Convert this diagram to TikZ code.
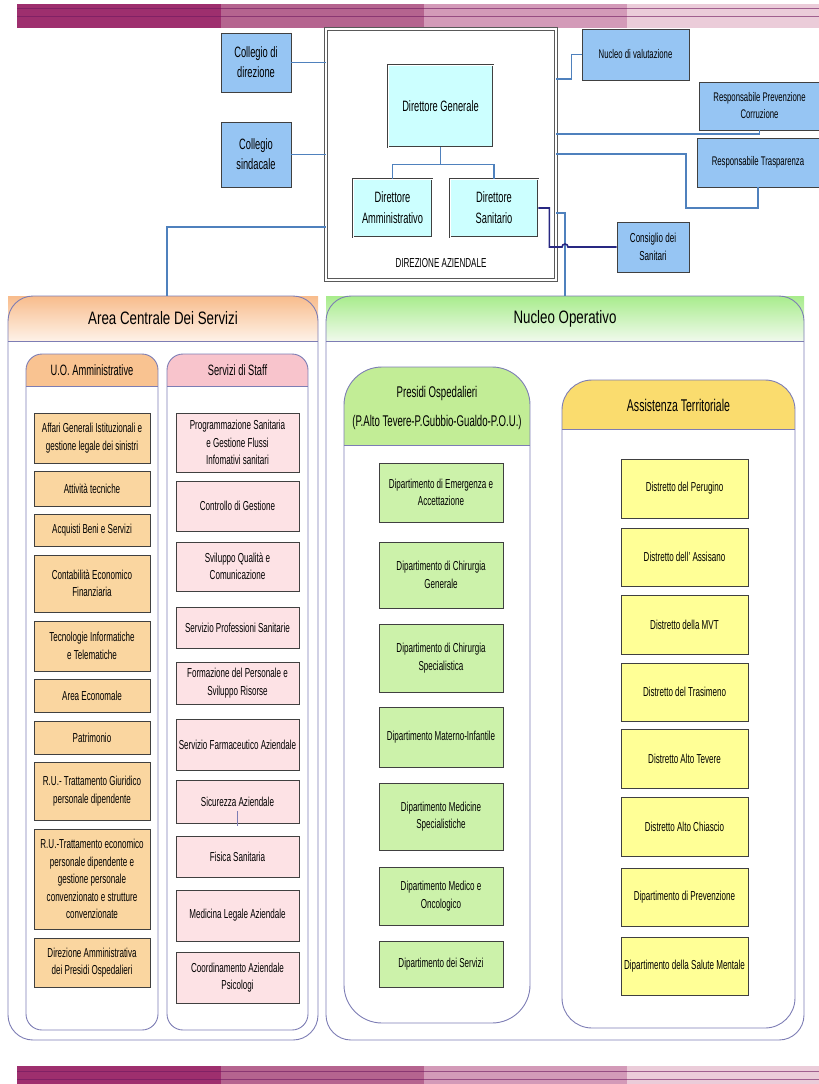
\documentclass[tikz,border=0pt]{standalone}
\usepackage{fontspec}
\setmainfont{Liberation Sans}[FakeStretch=0.62]
\newfontfamily\headfont{Liberation Sans}[FakeStretch=0.74]
\usetikzlibrary{shadows}

\definecolor{bandA}{RGB}{158,47,110}
\definecolor{bandB}{RGB}{181,100,143}
\definecolor{bandC}{RGB}{211,154,184}
\definecolor{bandD}{RGB}{235,204,217}
\definecolor{bandline}{RGB}{110,25,95}
\definecolor{linkblue}{RGB}{79,129,189}
\definecolor{navy}{RGB}{40,40,130}
\definecolor{framegray}{RGB}{125,125,180}
\definecolor{boxblue}{RGB}{150,197,243}
\definecolor{dirfill}{RGB}{204,255,255}
\definecolor{areatop}{RGB}{248,188,140}
\definecolor{areabot}{RGB}{254,242,232}
\definecolor{noptop}{RGB}{168,236,140}
\definecolor{nopbot}{RGB}{240,250,236}
\definecolor{uohead}{RGB}{249,195,145}
\definecolor{uofill}{RGB}{250,214,160}
\definecolor{staffhead}{RGB}{248,196,204}
\definecolor{stafffill}{RGB}{253,226,229}
\definecolor{preshead}{RGB}{194,237,150}
\definecolor{presfill}{RGB}{204,242,170}
\definecolor{assishead}{RGB}{250,220,110}
\definecolor{distfill}{RGB}{255,255,150}

\begin{document}
\begin{tikzpicture}
	[x=1pt,y=-1pt,
		orgbox/.style={draw=black!75,line width=0.8pt,inner sep=1pt,align=center,font=\fontsize{13}{17.5}\selectfont,drop shadow={shadow xshift=1pt,shadow yshift=-1pt,opacity=0.35}},
		topbox/.style={orgbox,fill=boxblue,font=\fontsize{15}{20}\selectfont},
		sidebox/.style={orgbox,fill=boxblue,font=\fontsize{12.5}{17}\selectfont},
		dirbox/.style={orgbox,fill=dirfill,double=white,double distance=1pt,line width=0.6pt,font=\fontsize{15}{21}\selectfont},
		uobox/.style={orgbox,fill=uofill,minimum width=116pt},
		staffbox/.style={orgbox,fill=stafffill,minimum width=123pt},
		presbox/.style={orgbox,fill=presfill,minimum width=124pt},
		distbox/.style={orgbox,fill=distfill,minimum width=127pt},
		areaframe/.style={draw=framegray,line width=0.9pt},
		areatitle/.style={inner sep=0pt,font=\headfont\fontsize{18}{20}\selectfont},
		subtitle/.style={align=center,font=\fontsize{15}{20}\selectfont},
		link/.style={linkblue,line width=1.3pt},
		navylink/.style={navy,line width=1.6pt}]

	\useasboundingbox (0,0) rectangle (819,1084);

	%draw the coloured bands at top and bottom
	\foreach \x/\w/\c in {17/204/bandA,221/203/bandB,424/203/bandC,627/192/bandD}
	{
		\fill[\c] (\x,4) rectangle ++(\w,24);
		\fill[\c] (\x,1066) rectangle ++(\w,18);
	}
	\draw[bandline,opacity=0.6] (17,8) -- (819,8) (17,16) -- (819,16);
	\draw[bandline,opacity=0.6] (17,1071) -- (819,1071) (17,1079) -- (819,1079);

	%draw area centrale dei servizi
	\node[areatitle,minimum width=310pt,minimum height=45pt,top color=areatop,bottom color=areabot] (acs) at (163,318.5) {Area Centrale Dei Servizi};
	\draw[areaframe,rounded corners=25pt] (8,296) rectangle (318,1040);
	\draw[areaframe] (8,341) -- (318,341);

	%draw nucleo operativo
	\node[areatitle,minimum width=478pt,minimum height=45pt,top color=noptop,bottom color=nopbot] (nop) at (565,318.5) {Nucleo Operativo};
	\draw[areaframe,rounded corners=25pt] (326,296) rectangle (804,1040);
	\draw[areaframe] (326,341) -- (804,341);

	%draw the u.o. amministrative column
	\begin{scope}
		\clip[rounded corners=16pt] (26,354) rectangle (158,1030);
		\fill[uohead] (26,354) rectangle (158,386);
	\end{scope}
	\draw[areaframe,rounded corners=16pt] (26,354) rectangle (158,1030);
	\draw[areaframe] (26,386) -- (158,386);
	\node[subtitle] (uo) at (92,370) {U.O. Amministrative};

	%draw the servizi di staff column
	\begin{scope}
		\clip[rounded corners=16pt] (167,354) rectangle (308,1030);
		\fill[staffhead] (167,354) rectangle (308,386);
	\end{scope}
	\draw[areaframe,rounded corners=16pt] (167,354) rectangle (308,1030);
	\draw[areaframe] (167,386) -- (308,386);
	\node[subtitle] (staff) at (237.5,370) {Servizi di Staff};

	%draw the presidi ospedalieri column
	\begin{scope}
		\clip[rounded corners=38pt] (344,367) rectangle (530,1023);
		\fill[preshead] (344,367) rectangle (530,445);
	\end{scope}
	\draw[areaframe,rounded corners=38pt] (344,367) rectangle (530,1023);
	\draw[areaframe] (344,445) -- (530,445);
	\node[align=center,font=\fontsize{15.5}{29}\selectfont] (presidi) at (437,407.5) {Presidi Ospedalieri\\(P.Alto Tevere-P.Gubbio-Gualdo-P.O.U.)};

	%draw the assistenza territoriale column
	\begin{scope}
		\clip[rounded corners=30pt] (562,380) rectangle (795,1028);
		\fill[assishead] (562,380) rectangle (795,429);
	\end{scope}
	\draw[areaframe,rounded corners=30pt] (562,380) rectangle (795,1028);
	\draw[areaframe] (562,429) -- (795,429);
	\node[font=\fontsize{17}{20}\selectfont] (assist) at (678.5,405) {Assistenza Territoriale};

	%draw the direzione aziendale
	\node[draw=black!65,double=white,double distance=2.5pt,line width=0.8pt,minimum width=230pt,minimum height=251pt] (diraz) at (441,154.5) {};
	\node[font=\fontsize{13}{15}\selectfont] (dazlabel) at (441,263) {DIREZIONE AZIENDALE};
	\node[dirbox,minimum width=105pt,minimum height=82pt] (dg) at (440.5,106) {Direttore Generale};
	\node[dirbox,minimum width=79pt,minimum height=58pt] (da) at (392.5,208) {Direttore\\Amministrativo};
	\node[dirbox,minimum width=88pt,minimum height=58pt] (ds) at (494,208) {Direttore\\Sanitario};

	%draw the boxes around it
	\node[topbox,minimum width=70pt,minimum height=59pt] (colldir) at (256,62.5) {Collegio di\\direzione};
	\node[topbox,minimum width=70pt,minimum height=65pt] (collsind) at (256,154.5) {Collegio\\sindacale};
	\node[sidebox,minimum width=107pt,minimum height=51pt] (nucval) at (635.5,54.5) {Nucleo di valutazione};
	\node[sidebox,minimum width=121pt,minimum height=48pt] (rpc) at (759.5,106) {Responsabile Prevenzione\\Corruzione};
	\node[sidebox,minimum width=122pt,minimum height=49pt] (rtr) at (758,162.5) {Responsabile Trasparenza};
	\node[sidebox,minimum width=72pt,minimum height=50pt,font=\fontsize{13}{18}\selectfont] (consan) at (653,247) {Consiglio dei\\Sanitari};

	%draw the links
	\draw[link] (dg.south) -- ++(0,17) -| (da.north);
	\draw[link] (dg.south) -- ++(0,17) -| (ds.north);
	\draw[link] (colldir.east) -- (colldir.east -| diraz.west);
	\draw[link] (collsind.east) -- (collsind.east -| diraz.west);
	\draw[link] (diraz.west |- 0,227) -| ([xshift=4pt]acs.north);
	\draw[link] (diraz.east |- 0,79) -- ++(15,0) |- (nucval.west);
	\draw[link] (diraz.east |- 0,134) -| (rpc.south);
	\draw[link] (diraz.east |- 0,154) -| (686,208) -| (rtr.south);
	\draw[link] (diraz.east |- 0,213) -| (nop.north);
	\draw[navylink] (ds.east) -- ++(11,0) |- (562,247) arc[start angle=180,end angle=360,radius=3] -- (consan.west);

	%draw the u.o. amministrative boxes
	\node[uobox,minimum height=50pt] (affari) at (92,438) {Affari Generali Istituzionali e\\gestione legale dei sinistri};
	\node[uobox,minimum height=35pt] (tecniche) at (92,488.5) {Attività tecniche};
	\node[uobox,minimum height=32pt] (acquisti) at (92,530) {Acquisti Beni e Servizi};
	\node[uobox,minimum height=57pt] (contab) at (92,583.5) {Contabilità Economico\\Finanziaria};
	\node[uobox,minimum height=50pt] (tecnol) at (92,646) {Tecnologie Informatiche\\e Telematiche};
	\node[uobox,minimum height=33pt] (economale) at (92,695.5) {Area Economale};
	\node[uobox,minimum height=33pt] (patrim) at (92,737.5) {Patrimonio};
	\node[uobox,minimum height=58pt] (rugiur) at (92,791) {R.U.- Trattamento Giuridico\\personale dipendente};
	\node[uobox,minimum height=100pt] (rueco) at (92,879) {R.U.-Trattamento economico\\personale dipendente e\\gestione personale\\convenzionato e strutture\\convenzionate};
	\node[uobox,minimum height=49pt] (dirammpo) at (92,962.5) {Direzione Amministrativa\\dei Presidi Ospedalieri};

	%draw the servizi di staff boxes
	\node[staffbox,minimum height=59pt] (programm) at (237.5,442.5) {Programmazione Sanitaria\\e Gestione Flussi\\Infomativi sanitari};
	\node[staffbox,minimum height=50pt] (controllo) at (237.5,506) {Controllo di Gestione};
	\node[staffbox,minimum height=49pt] (qualita) at (237.5,566.5) {Sviluppo Qualità e\\Comunicazione};
	\node[staffbox,minimum height=41pt] (profsan) at (237.5,627.5) {Servizio Professioni Sanitarie};
	\node[staffbox,minimum height=42pt] (formaz) at (237.5,683) {Formazione del Personale e\\Sviluppo Risorse};
	\node[staffbox,minimum height=51pt] (farmac) at (237.5,744.5) {Servizio Farmaceutico Aziendale};
	\node[staffbox,minimum height=43pt] (sicurez) at (237.5,801.5) {Sicurezza Aziendale};
	\node[staffbox,minimum height=41pt] (fisica) at (237.5,856.5) {Fisica Sanitaria};
	\node[staffbox,minimum height=51pt] (medleg) at (237.5,915.5) {Medicina Legale Aziendale};
	\node[staffbox,minimum height=51pt] (psicol) at (237.5,977.5) {Coordinamento Aziendale\\Psicologi};
	\draw[framegray,line width=0.6pt] ([yshift=12pt]sicurez.south) -- ([yshift=-3pt]sicurez.south);

	%draw the presidi ospedalieri boxes
	\node[presbox,minimum height=59pt] (emerg) at (441,492.5) {Dipartimento di Emergenza e\\Accettazione};
	\node[presbox,minimum height=66pt] (chirgen) at (441,575) {Dipartimento di Chirurgia\\Generale};
	\node[presbox,minimum height=68pt] (chirspec) at (441,658) {Dipartimento di Chirurgia\\Specialistica};
	\node[presbox,minimum height=60pt] (materno) at (441,737) {Dipartimento Materno-Infantile};
	\node[presbox,minimum height=67pt] (medspec) at (441,816.5) {Dipartimento Medicine\\Specialistiche};
	\node[presbox,minimum height=58pt] (oncol) at (441,896) {Dipartimento Medico e\\Oncologico};
	\node[presbox,minimum height=46pt] (dipserv) at (441,964) {Dipartimento dei Servizi};

	%draw the assistenza territoriale boxes
	\node[distbox,minimum height=59pt] (perugino) at (684.5,488.5) {Distretto del Perugino};
	\node[distbox,minimum height=58pt] (assisano) at (684.5,557) {Distretto dell' Assisano};
	\node[distbox,minimum height=59pt] (mvt) at (684.5,624.5) {Distretto della MVT};
	\node[distbox,minimum height=58pt] (trasimeno) at (684.5,692) {Distretto del Trasimeno};
	\node[distbox,minimum height=59pt] (altotevere) at (684.5,758.5) {Distretto Alto Tevere};
	\node[distbox,minimum height=59pt] (chiascio) at (684.5,826.5) {Distretto Alto Chiascio};
	\node[distbox,minimum height=58pt] (prevenz) at (684.5,897) {Dipartimento di Prevenzione};
	\node[distbox,minimum height=58pt] (salment) at (684.5,966) {Dipartimento della Salute Mentale};
\end{tikzpicture}
\end{document}
